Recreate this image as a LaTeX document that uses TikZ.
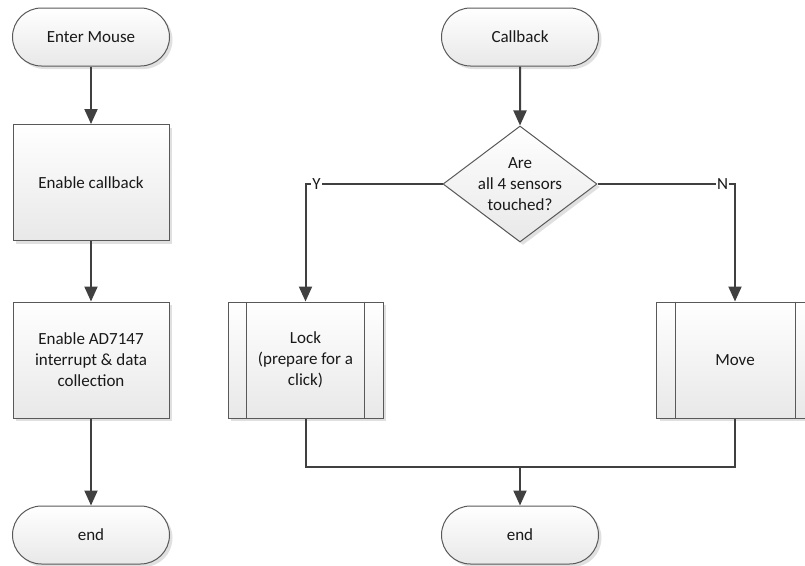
\documentclass[tikz,border=0pt]{standalone}
\usepackage{fontspec}
\setmainfont{Carlito}
\usetikzlibrary{shapes.geometric,shapes.misc,shadows,arrows.meta}

\tikzset{
  base/.style={draw=black!65, line width=1pt, font=\fontsize{17}{21}\selectfont,
    text=black!90, align=center, inner sep=0pt, top color=white, bottom color=black!9,
    drop shadow={shadow xshift=3pt,shadow yshift=-3pt,fill=black!12,opacity=1}},
  term/.style={base, rounded rectangle, minimum width=157pt, minimum height=58pt},
  proc/.style={base, rectangle, minimum width=156pt, minimum height=116pt},
  decide/.style={base, diamond, minimum width=154pt, minimum height=116pt},
  flow/.style={draw=black!75, line width=2pt},
  arr/.style={flow, -{Triangle[length=15pt,width=13pt]}},
  yn/.style={fill=white, inner sep=1pt, text=black!90, font=\fontsize{17}{21}\selectfont}
}

\begin{document}
\begin{tikzpicture}[x=1pt,y=-1pt]
\useasboundingbox (0,0) rectangle (805,565);

% left chart
\node[term] (enter) at (91,37) {Enter Mouse};
\node[proc] (cb) at (91,182.5) {Enable callback};
\node[proc] (ad) at (91,360) {Enable AD7147\\interrupt \& data\\collection};
\node[term] (endA) at (91,535) {end};

% right chart
\node[term] (callback) at (520,37) {Callback};
\node[decide] (check) at (520,184)
  [label={[align=center,text=black!90,font=\fontsize{17}{21}\selectfont]center:{Are\\all 4 sensors\\touched?}}] {};
\node[proc, minimum width=155pt] (lock) at (305.5,360) {Lock\\(prepare for a\\click)};
\node[proc, minimum width=157pt] (move) at (735,360) {Move};
\node[term] (endB) at (520,535) {end};
\coordinate (merge) at (520,467);

\foreach \n in {lock,move} {
  \draw[draw=black!65, line width=1pt] ([xshift=19pt]\n.north west) -- ([xshift=19pt]\n.south west);
  \draw[draw=black!65, line width=1pt] ([xshift=-19pt]\n.north east) -- ([xshift=-19pt]\n.south east);
}

\draw[arr] (enter) -- (cb);
\draw[arr] (cb) -- (ad);
\draw[arr] (ad) -- (endA);
\draw[arr] (callback) -- (check);
\draw[arr] (check.west) -| node[pos=0.46, yn] {Y} (lock.north);
\draw[arr] (check.east) -| node[pos=0.455, yn] {N} (move.north);
\draw[flow] (lock.south) |- (merge) -| (move.south);
\draw[arr] (merge) -- (endB);
\end{tikzpicture}
\end{document}
